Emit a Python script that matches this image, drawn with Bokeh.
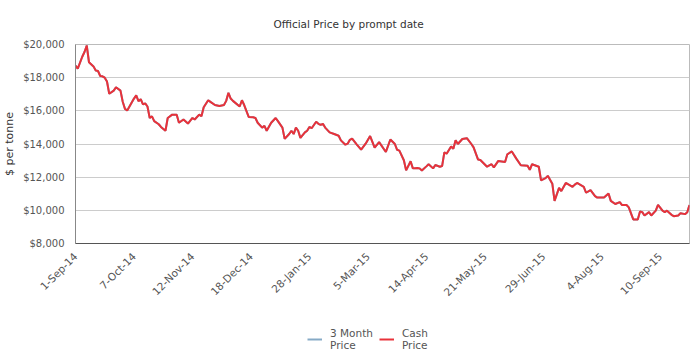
import math
from bokeh.plotting import figure
from bokeh.layouts import column
from bokeh.models import (ColumnDataSource, FixedTicker, NumeralTickFormatter,
                          Legend, LegendItem, Range1d)
from bokeh.embed import file_html
from bokeh.resources import INLINE

# trading-day index (0 = 1-Sep-14) and official cash price, $ per tonne
day_index = [0, 1, 3, 4, 5, 6, 8, 9, 10, 11, 12, 13, 14, 15, 17, 18, 20, 21, 22, 23,
             25, 26, 27, 28, 29, 30, 31, 32, 33, 34, 35, 37, 38, 40, 41, 43, 45, 46, 48, 50,
             52, 53, 55, 56, 57, 59, 60, 62, 64, 66, 67, 68, 69, 70, 73, 74, 75, 77, 79, 80,
             81, 83, 84, 85, 87, 89, 90, 92, 93, 95, 96, 97, 98, 99, 100, 102, 103, 104, 105, 107,
             108, 109, 110, 111, 113, 115, 117, 118, 120, 121, 122, 123, 125, 127, 129, 131, 133, 135, 138, 140,
             142, 143, 144, 146, 147, 149, 150, 152, 153, 154, 156, 157, 159, 160, 162, 163, 164, 165, 167, 168,
             169, 170, 172, 174, 176, 177, 179, 180, 183, 185, 186, 188, 191, 192, 194, 196, 198, 201, 202, 203,
             206, 207, 209, 210, 212, 213, 215, 216, 218, 221, 222, 223, 226, 227, 229, 231, 232, 235, 237, 238,
             240, 242, 243, 245, 246, 248, 250, 251, 252, 253, 255, 256, 258, 259, 261, 262, 263, 265, 266, 268,
             269, 271, 272, 273]
cash_price = [18720, 18540, 19260, 19550, 19940, 18930, 18680, 18430, 18400, 18100, 18080, 18000, 17770, 17030, 17220, 17420, 17220, 16550, 16120, 16020,
              16500, 16740, 16930, 16580, 16700, 16390, 16450, 16260, 15570, 15670, 15380, 15190, 15030, 14800, 15570, 15770, 15770, 15280, 15480, 15230,
              15570, 15480, 15770, 15670, 16220, 16640, 16540, 16350, 16290, 16350, 16600, 17090, 16740, 16600, 16260, 16640, 16350, 15630, 15610, 15570,
              15280, 14990, 15090, 14800, 15280, 15570, 15380, 14990, 14310, 14600, 14800, 14600, 14990, 14800, 14370, 14700, 14800, 15030, 14950, 15340,
              15220, 15150, 15220, 14990, 14700, 14600, 14500, 14220, 13960, 14020, 14250, 14330, 13980, 13660, 14020, 14480, 13780, 14110, 13520, 14270,
              14000, 13650, 13600, 13020, 12410, 12960, 12530, 12550, 12530, 12400, 12650, 12780, 12530, 12730, 12630, 12670, 13500, 13410, 13850, 13710,
              14230, 14000, 14300, 14350, 14000, 13800, 13060, 13030, 12630, 12780, 12590, 12980, 12920, 13380, 13550, 13120, 12720, 12690, 12440, 12780,
              12630, 11810, 11940, 12080, 11610, 10570, 11350, 11160, 11650, 11420, 11550, 11650, 11420, 11060, 11220, 10860, 10770, 10770, 11020, 10570,
              10380, 10500, 10320, 10320, 10180, 9450, 9450, 9930, 9890, 9690, 9890, 9690, 9980, 10330, 9980, 9890, 9980, 9730, 9650, 9690,
              9830, 9770, 9890, 10320]
# 3 month price runs almost on top of the cash price (hidden beneath it)
three_month_price = cash_price

tick_index = [0, 26, 52, 78, 104, 130, 156, 182, 208, 234, 260]
tick_labels = ["1-Sep-14", "7-Oct-14", "12-Nov-14", "18-Dec-14", "28-Jan-15", "5-Mar-15",
               "14-Apr-15", "21-May-15", "29-Jun-15", "4-Aug-15", "10-Sep-15"]
y_ticks = [8000, 10000, 12000, 14000, 16000, 18000, 20000]
series_names = ["3 Month\nPrice", "Cash\nPrice"]
series_colors = ["#86aac6", "#e8323a"]

FONT = "DejaVu Sans"
TXT = "#555555"

src = ColumnDataSource(dict(x=day_index, cash=cash_price, m3=three_month_price))

p = figure(width=692, height=305, output_backend="svg", toolbar_location=None,
           x_range=Range1d(0, 273), y_range=Range1d(8000, 20000),
           min_border_left=64, min_border_right=3, min_border_top=44, min_border_bottom=55)

p.title.text = "Official Price by prompt date"
p.title.align = "left"
p.title.offset = 198
p.title.standoff = 30
p.title.text_font = FONT
p.title.text_font_size = "10.5px"
p.title.text_font_style = "normal"
p.title.text_color = "#333333"

p.line("x", "m3", source=src, line_color=series_colors[0], line_width=2)
p.line("x", "cash", source=src, line_color=series_colors[1], line_width=2)

p.outline_line_color = "#bbbbbb"
p.outline_line_width = 1
p.xgrid.visible = False
p.ygrid.grid_line_color = "#cccccc"
p.ygrid.grid_line_width = 1

p.yaxis.ticker = FixedTicker(ticks=y_ticks)
p.yaxis.formatter = NumeralTickFormatter(format="$0,0")
p.yaxis.axis_label = "$ per tonne"
p.yaxis.axis_label_text_font = FONT
p.yaxis.axis_label_text_font_size = "11px"
p.yaxis.axis_label_text_font_style = "normal"
p.yaxis.axis_label_text_color = "#333333"
p.yaxis.axis_label_standoff = 4
p.yaxis.major_label_text_font = FONT
p.yaxis.major_label_text_font_size = "10px"
p.yaxis.major_label_text_color = TXT
p.yaxis.axis_line_color = "#888888"
p.yaxis.major_tick_line_color = None
p.yaxis.minor_tick_line_color = None
p.yaxis.major_label_standoff = 5

p.xaxis.ticker = FixedTicker(ticks=tick_index)
p.xaxis.major_label_overrides = {t: l for t, l in zip(tick_index, tick_labels)}
p.xaxis.major_label_orientation = math.pi / 4
p.xaxis.major_label_text_font = FONT
p.xaxis.major_label_text_font_size = "10.5px"
p.xaxis.major_label_text_color = TXT
p.xaxis.axis_line_color = "#555555"
p.xaxis.major_tick_line_color = None
p.xaxis.minor_tick_line_color = None
p.xaxis.major_label_standoff = 5

# legend strip below the chart (its lines fall outside this strip's ranges,
# only the legend swatches show)
lg = figure(width=692, height=55, output_backend="svg", toolbar_location=None,
            x_range=Range1d(-2, -1), y_range=Range1d(-2, -1),
            min_border_left=0, min_border_right=0, min_border_top=0, min_border_bottom=0)
lg.axis.visible = False
lg.grid.visible = False
lg.outline_line_color = None
items = []
for name, color, col in zip(series_names, series_colors, ["m3", "cash"]):
    r = lg.line("x", col, source=src, line_color=color, line_width=2)
    items.append(LegendItem(label=name, renderers=[r]))
legend = Legend(items=items, orientation="horizontal", location=(232, 9))
legend.label_text_font = FONT
legend.label_text_font_size = "10.5px"
legend.label_text_color = TXT
legend.label_text_align = "left"
legend.label_standoff = 8
legend.border_line_color = None
legend.background_fill_alpha = 0
legend.glyph_width = 15
legend.spacing = 6
legend.margin = 0
legend.padding = 4
lg.add_layout(legend, "center")

layout = column(p, lg, spacing=0)
open("out.html", "w").write(file_html(layout, INLINE))
